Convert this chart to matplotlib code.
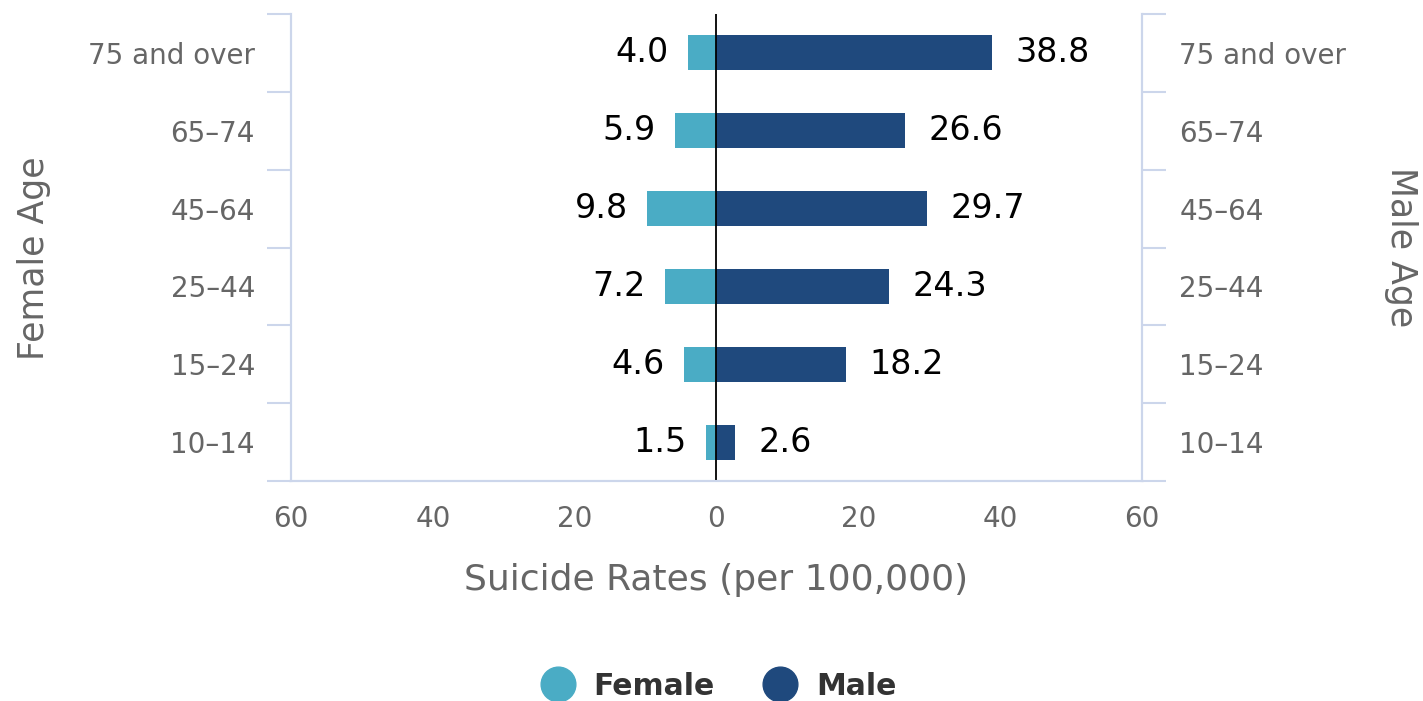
import matplotlib.pyplot as plt
import numpy as np

plt.rcParams['font.family'] = ['DejaVu Sans']

ages = ['10-14', '15-24', '25-44', '45-64', '65-74', '75 and over']
female = [1.5, 4.6, 7.2, 9.8, 5.9, 4.0]
male = [2.6, 18.2, 24.3, 29.7, 26.6, 38.8]
xticks = [-60, -40, -20, 0, 20, 40, 60]

female_color = '#4aacc5'
male_color = '#1f497d'
axis_color = '#ccd6eb'
label_gray = '#666666'


def main():
    fig = plt.figure(figsize=(14.23, 7.01), dpi=100)
    ax = fig.add_axes([0.2045, 0.3138, 0.598, 0.6662])

    y = np.arange(len(ages))
    labels = [a.replace('-', '\u2013') for a in ages]

    ax.barh(y, [-v for v in female], height=0.45, color=female_color, label='Female')
    ax.barh(y, male, height=0.45, color=male_color, label='Male')

    # data labels
    for i, v in enumerate(female):
        ax.annotate(f'{v:.1f}', (-v, i), xytext=(-14, 0), textcoords='offset points',
                    ha='right', va='center', fontsize=24, color='black')
    for i, v in enumerate(male):
        ax.annotate(f'{v:.1f}', (v, i), xytext=(17, 0), textcoords='offset points',
                    ha='left', va='center', fontsize=24, color='black')

    ax.axvline(0, color='black', lw=1.3, zorder=3)

    ax.set_xlim(-60, 60)
    ax.set_ylim(-0.5, len(ages) - 0.5)
    ax.set_xticks(xticks)
    ax.set_xticklabels([str(abs(t)) for t in xticks])
    ax.tick_params(axis='x', length=0, pad=17, labelsize=20, labelcolor=label_gray)

    ax.set_yticks(y)
    ax.set_yticklabels(labels)
    ax.set_yticks(np.arange(-0.5, len(ages), 1), minor=True)
    ax.tick_params(axis='y', which='major', length=0, pad=26, labelsize=20, labelcolor=label_gray)
    ax.tick_params(axis='y', which='minor', length=17, width=1.5, color=axis_color)

    ax2 = ax.twinx()
    ax2.set_ylim(ax.get_ylim())
    ax2.set_yticks(y)
    ax2.set_yticklabels(labels)
    ax2.set_yticks(np.arange(-0.5, len(ages), 1), minor=True)
    ax2.tick_params(axis='y', which='major', length=0, pad=27, labelsize=20, labelcolor=label_gray)
    ax2.tick_params(axis='y', which='minor', length=17, width=1.5, color=axis_color)

    for a in (ax, ax2):
        a.spines['top'].set_visible(False)
        for s in ('left', 'right', 'bottom'):
            a.spines[s].set_color(axis_color)
            a.spines[s].set_linewidth(1.5)

    ax.set_xlabel('Suicide Rates (per 100,000)', fontsize=26, color=label_gray, va='center')
    ax.xaxis.set_label_coords(0.5, -0.212)
    ax.set_ylabel('Female Age', fontsize=25, color=label_gray, va='center')
    ax.yaxis.set_label_coords(-0.302, 0.4775)
    ax2.set_ylabel('Male Age', fontsize=25, color=label_gray, rotation=270, va='center')
    ax2.yaxis.set_label_coords(1.304, 0.501)

    handles = [plt.Line2D([], [], marker='o', ls='', ms=25, color=female_color),
               plt.Line2D([], [], marker='o', ls='', ms=25, color=male_color)]
    leg = fig.legend(handles, ['Female', 'Male'], loc='center', bbox_to_anchor=(0.5005, 0.021),
                     ncol=2, frameon=False, fontsize=21.5, handletextpad=0.2, columnspacing=1.2)
    for t in leg.get_texts():
        t.set_fontweight('bold')
        t.set_color('#333333')

    fig.savefig('out.png', dpi=100)


if __name__ == "__main__":
    main()
